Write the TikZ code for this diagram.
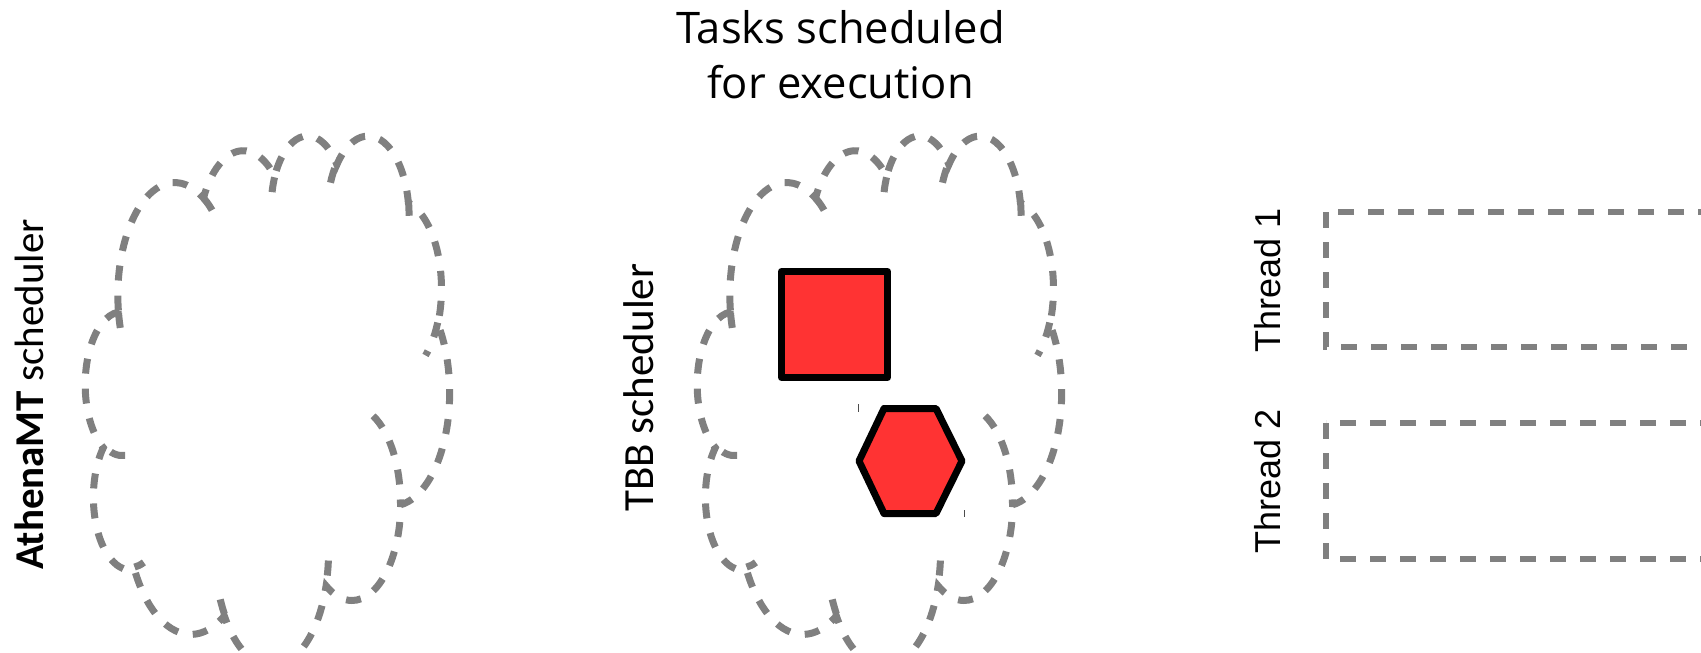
\documentclass[tikz,border=0pt]{standalone}
\usepackage{fontspec}
\setmainfont{Open Sans}
\newfontfamily\schedfont{Carlito}
\newfontfamily\threadfont{Liberation Sans}
\definecolor{dashgray}{RGB}{128,128,128}
\definecolor{taskred}{RGB}{255,51,51}
\tikzset{
  cloud/.style={draw=dashgray,line width=7pt,dash pattern=on 15pt off 15pt},
  lane/.style={draw=dashgray,line width=6.7pt,dash pattern=on 15.7pt off 14.3pt},
  task/.style={fill=taskred,draw=black,line width=7pt,line join=round},
  vlabel/.style={rotate=90,anchor=base,inner sep=0pt},
  tick/.style={draw=black!70,line width=1pt}
}
\newcommand\ooarc[4]{\pgfextra{%
    \pgfmathsetmacro\ooS{atan2(#1*sin(#3),#2*cos(#3))}%
    \pgfmathsetmacro\ooE{atan2(#1*sin(#3+#4),#2*cos(#3+#4))}%
    \pgfmathsetmacro\ooE{\ooS+mod(\ooE-\ooS+720,360)}%
  } arc[x radius=#1,y radius=#2,start angle=\ooS,end angle=\ooE]}
\begin{document}
\begin{tikzpicture}[x=1pt,y=-1pt]
\useasboundingbox (0,0) rectangle (1701,653);
\clip (0,0) rectangle (1701,653);
\foreach \xo in {85.5,697.5}{
\begin{scope}[shift={(\xo,134.2)},x=0.8426pt,y=-1.2269pt]
\draw[cloud] (39,143.7) \foreach \w/\h/\s/\d in {67.53/91.90/-190.4875/123.7805,53.33/72.67/-144.1024/89.9452,
  43.65/59.45/-145.8079/99.7230,48.57/65.95/-130.9861/117.2417,53.33/72.73/-78.7089/109.0269,
  67.75/92.20/-46.2673/130.2690,57.85/78.67/0.6250/114.0333,67.52/92.15/22.4516/115.1726,
  77.20/105.43/66.2426/75.7110,43.60/59.18/-274.9421/146.7356,43.45/59.45/-246.8285/152.5189}{\ooarc{\w}{\h}{\s}{\d}} -- cycle;
\draw[cloud] \foreach \px/\py/\w/\h/\s/\d in {46.93/261.77/43.45/59.45/86.7420/26.4295,
  69.28/348.99/43.60/59.18/73.6105/11.4475,164.78/390.90/67.52/92.15/137.6242/14.0811,
  288.27/347.51/67.52/92.15/6.4533/15.9984,341.29/229.54/57.85/78.67/-70.2924/70.9174,
  417.98/153.54/53.33/72.73/30.3180/27.7515,383.24/54.26/48.57/65.95/-13.7443/14.8541,
  290.78/39.52/48.57/65.95/-149.1815/18.1959,221.41/47.20/43.65/59.45/-163.4943/17.6951,
  140.00/51.92/67.53/91.90/-66.7070/12.3194,41.27/157.89/67.53/91.90/157.6544/11.8582}{(\px,\py) \ooarc{\w}{\h}{\s}{\d}};
\end{scope}}
\node[task,minimum size=106pt,inner sep=0pt] (sqtask) at (834.5,324.5) {};
\draw[task] (859,461) -- (884,408.5) -- (936,408.5) -- (962,461) -- (936,513.5) -- (884,513.5) -- cycle;
\draw[tick] (858.3,404) -- (858.3,412) (964,510) -- (964,517);
\draw[lane] (1326,212) rectangle (1760,347);
\draw[lane] (1326,423) rectangle (1760,559);
\node[font=\fontsize{43.5}{55}\selectfont,align=center,anchor=north,inner sep=0pt] (title) at (840.5,10) {Tasks scheduled\\for execution};
\node[vlabel,font=\schedfont\fontsize{41}{41}\selectfont] (athena) at (43,394.5) {\textbf{AthenaMT} scheduler};
\node[vlabel,font=\schedfont\fontsize{43}{43}\selectfont] (tbb) at (653,387.5) {TBB scheduler};
\node[vlabel,font=\threadfont\fontsize{36}{36}\selectfont] (thread1) at (1280,280) {Thread 1};
\node[vlabel,font=\threadfont\fontsize{36}{36}\selectfont] (thread2) at (1280,481.5) {Thread 2};
\end{tikzpicture}
\end{document}
